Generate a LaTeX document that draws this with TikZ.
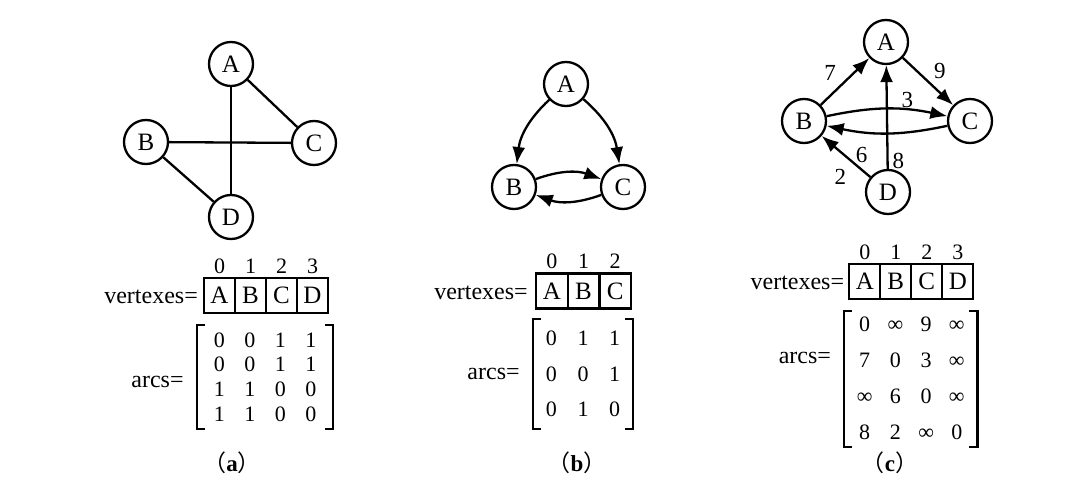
\documentclass[tikz,border=0pt]{standalone}
\usepackage{fontspec}
\setmainfont{Liberation Serif}
\newfontfamily\cjk{Noto Sans CJK SC}
\usepackage{tikz}
\usetikzlibrary{
  arrows.meta,
  positioning,
  matrix,
  calc
}
\tikzset{
  vtx/.style={
    circle, draw, line width=2.3pt, minimum size=44pt, inner sep=0pt,
    font=\fontsize{25}{29}\selectfont
  },
  edgeline/.style={line width=2.3pt},
  arcline/.style={line width=2.3pt, -{Latex[length=17pt,width=13pt]}},
  elbl/.style={inner sep=0pt, font=\fontsize{23}{27}\selectfont},
  cell/.style={
    draw, line width=2.3pt, minimum width=31pt, minimum height=35pt,
    inner sep=0pt, outer sep=0pt, font=\fontsize{25}{29}\selectfont
  },
  idx/.style={inner sep=0pt, font=\fontsize{22}{26}\selectfont},
  lbl/.style={inner sep=0pt, font=\fontsize{24}{28}\selectfont},
  mat/.style={
    matrix of nodes, row sep=0pt, column sep=0pt,
    nodes={inner sep=0pt, font=\fontsize{22}{26}\selectfont}
  },
  brk/.style={line width=2.3pt},
  captext/.style={inner sep=0pt, font=\fontsize{23}{27}\selectfont},
}
% square brackets round a matrix node
\newcommand{\brackets}[1]{%
  \draw[brk] ([xshift=8pt]#1.north west) -| (#1.south west) -- ++(8pt,0);
  \draw[brk] ([xshift=-8pt]#1.north east) -| (#1.south east) -- ++(-8pt,0);
}

\begin{document}
\begin{tikzpicture}[x=1pt, y=-1pt]
\useasboundingbox (0,0) rectangle (1066,489);

% ── (a) undirected graph ──────────────────────────────────────────────────────
\node[vtx] (aA) at (231,64)  {A};
\node[vtx] (aB) at (146,142) {B};
\node[vtx] (aC) at (314,143) {C};
\node[vtx] (aD) at (231,217) {D};

\draw[edgeline] (aA) -- (aC);
\draw[edgeline] (aA) -- (aD);
\draw[edgeline] (aB) -- (aC);
\draw[edgeline] (aB) -- (aD);

% ── (a) vertexes and arcs ─────────────────────────────────────────────────────
\node[cell] (va0) at (219.5,295.5) {A};
\node[cell, right=0pt of va0] (va1) {B};
\node[cell, right=0pt of va1] (va2) {C};
\node[cell, right=0pt of va2] (va3) {D};

\node[idx, above=4pt of va0] (ia0) {0};
\node[idx, above=4pt of va1] (ia1) {1};
\node[idx, above=4pt of va2] (ia2) {2};
\node[idx, above=4pt of va3] (ia3) {3};

\node[lbl, anchor=base east] (vlaba) at ([xshift=-6pt]va0.base west) {vertexes=};

\matrix (ma) [mat, nodes={minimum width=30.5pt, minimum height=24.5pt},
              inner xsep=7pt, inner ysep=2.5pt] at (265,377) {
  0 & 0 & 1 & 1 \\
  0 & 0 & 1 & 1 \\
  1 & 1 & 0 & 0 \\
  1 & 1 & 0 & 0 \\
};
\brackets{ma}
\node[lbl, left=13pt of ma, yshift=-5pt] (alaba) {arcs=};

\node[captext] (capa) at (232,463) {{\cjk （}\textbf{a}{\cjk ）}};

% ── (b) directed graph ────────────────────────────────────────────────────────
\node[vtx] (bA) at (566,84)  {A};
\node[vtx] (bB) at (514,187) {B};
\node[vtx] (bC) at (623,187) {C};

\draw[arcline] (bA) to[bend right=20] (bB);
\draw[arcline] (bA) to[bend left=20]  (bC);
\draw[arcline] (bB) to[bend left=20]  (bC);
\draw[arcline] (bC) to[bend left=20]  (bB);

% ── (b) vertexes and arcs ─────────────────────────────────────────────────────
\node[cell, minimum width=31.7pt] (vb0) at (551.8,291) {A};
\node[cell, minimum width=31.7pt, right=0pt of vb0] (vb1) {B};
\node[cell, minimum width=31.7pt, right=0pt of vb1] (vb2) {C};

\node[idx, above=5pt of vb0] (ib0) {0};
\node[idx, above=5pt of vb1] (ib1) {1};
\node[idx, above=5pt of vb2] (ib2) {2};

\node[lbl, anchor=base east] (vlabb) at ([xshift=-8pt]vb0.base west) {vertexes=};

\matrix (mb) [mat, nodes={minimum width=31.65pt, minimum height=35.5pt},
              inner xsep=2.5pt, inner ysep=1.5pt] at (583,374) {
  0 & 1 & 1 \\
  0 & 0 & 1 \\
  0 & 1 & 0 \\
};
\brackets{mb}
\node[lbl, left=13pt of mb] (alabb) {arcs=};

\node[captext] (capb) at (577,463) {{\cjk （}\textbf{b}{\cjk ）}};

% ── (c) weighted directed graph ───────────────────────────────────────────────
\node[vtx] (cA) at (886,42)  {A};
\node[vtx] (cB) at (804,121) {B};
\node[vtx] (cC) at (970,121) {C};
\node[vtx] (cD) at (888,192) {D};

\draw[arcline] (cB) -- node[elbl, above left=0pt and 8pt] (w7) {7} (cA);
\draw[arcline] (cA) -- node[elbl, above right=2pt and 5pt] (w9) {9} (cC);
\draw[arcline] (cB) to[bend left=12]
  node[elbl, pos=0.68, above=1pt] (w3) {3} (cC);
\draw[arcline] (cC) to[bend left=12] (cB);
\draw[arcline] (cD) -- node[elbl, pos=0.08, right=4pt] (w8) {8} (cA);
\draw[arcline] (cD) --
  node[elbl, pos=0.32, above right=0pt] (w6) {6}
  node[elbl, pos=0.35, below left=5pt and 6pt] (w2) {2} (cB);

% ── (c) vertexes and arcs ─────────────────────────────────────────────────────
\node[cell] (vc0) at (864.8,281.7) {A};
\node[cell, right=0pt of vc0] (vc1) {B};
\node[cell, right=0pt of vc1] (vc2) {C};
\node[cell, right=0pt of vc2] (vc3) {D};

\node[idx, above=4pt of vc0] (ic0) {0};
\node[idx, above=4pt of vc1] (ic1) {1};
\node[idx, above=4pt of vc2] (ic2) {2};
\node[idx, above=4pt of vc3] (ic3) {3};

\node[lbl, anchor=base east] (vlabc) at ([xshift=-5pt]vc0.base west) {vertexes=};

\matrix (mc) [mat, nodes={minimum width=30.7pt, minimum height=26pt},
              row sep=8pt, inner xsep=5pt, inner ysep=0pt] at (910.75,379) {
  0 & ∞ & 9 & ∞ \\
  7 & 0 & 3 & ∞ \\
  ∞ & 6 & 0 & ∞ \\
  8 & 2 & ∞ & 0 \\
};
\brackets{mc}
\node[lbl, left=13pt of mc, yshift=21pt] (alabc) {arcs=};

\node[captext] (capc) at (890,463) {{\cjk （}\textbf{c}{\cjk ）}};

\end{tikzpicture}
\end{document}
